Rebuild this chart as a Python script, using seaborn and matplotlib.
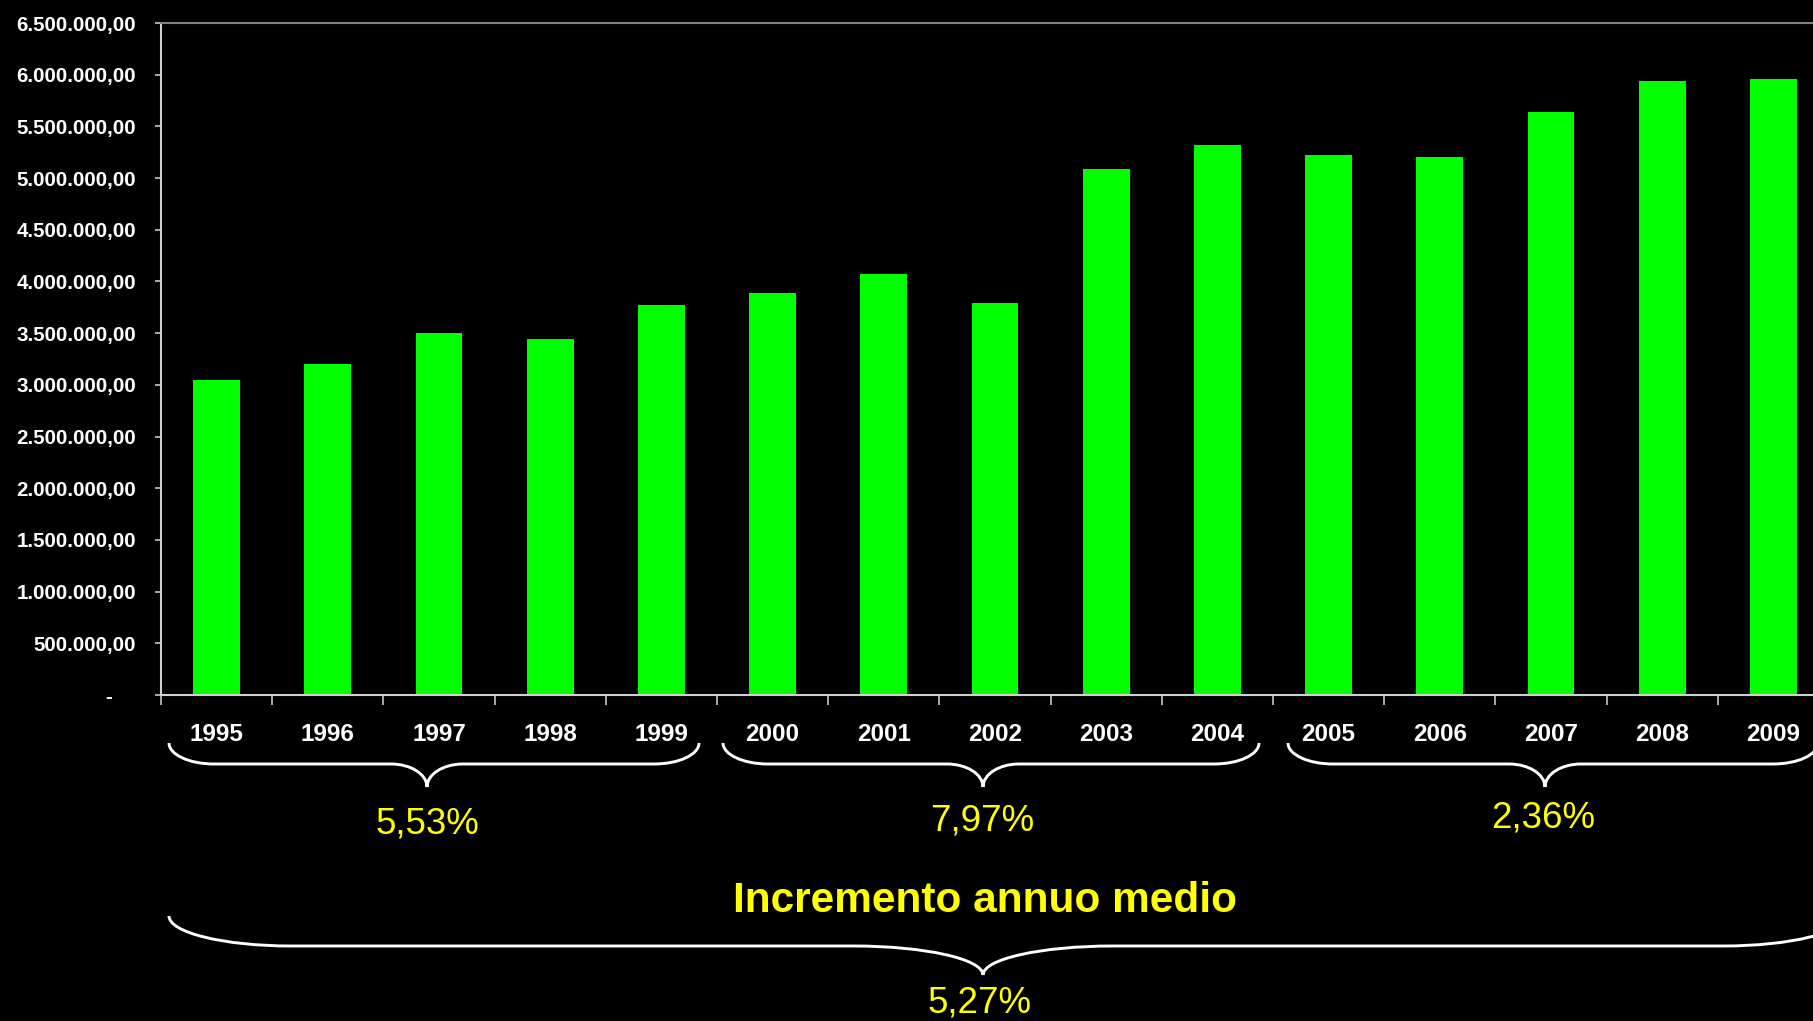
import matplotlib
matplotlib.use("Agg")
import matplotlib.pyplot as plt
import matplotlib.transforms as mtransforms
from matplotlib.path import Path
from matplotlib.patches import PathPatch
from matplotlib.ticker import FuncFormatter, FixedLocator
import seaborn as sns
import pandas as pd

# ---------------- data ----------------
years = ["1995", "1996", "1997", "1998", "1999", "2000", "2001", "2002",
         "2003", "2004", "2005", "2006", "2007", "2008", "2009"]
values = [3050000, 3200000, 3500000, 3445000, 3770000, 3890000, 4070000, 3790000,
          5090000, 5320000, 5220000, 5200000, 5640000, 5940000, 5960000]
y_ticks = [i * 500000 for i in range(14)]
group_labels = ["5,53%", "7,97%", "2,36%"]
overall_label = "5,27%"
title_text = "Incremento annuo medio"

# ---------------- style ----------------
W, H = 1813, 1021
sns.set_theme(style="white")
plt.rcParams["font.family"] = ["Liberation Sans", "DejaVu Sans"]
GREEN = "#00ff00"
YELLOW = "#ffff00"

fig = plt.figure(figsize=(W / 100, H / 100), dpi=100, facecolor="black")
ax = fig.add_axes([161 / W, (H - 695) / H, (15 * 111.2) / W, 672 / H])
ax.set_facecolor("black")

df = pd.DataFrame({"year": years, "value": values})
sns.barplot(data=df, x="year", y="value", color=GREEN, saturation=1,
            width=0.42, ax=ax, linewidth=0)

ax.set_xlim(-0.5, len(years) - 0.5)
ax.set_ylim(0, 6500000)
ax.set_xlabel("")
ax.set_ylabel("")


def it_fmt(v, pos):
    if v == 0:
        return "-    "
    s = f"{v:,.2f}"
    return s.replace(",", "X").replace(".", ",").replace("X", ".")


ax.yaxis.set_major_locator(FixedLocator(y_ticks))
ax.yaxis.set_major_formatter(FuncFormatter(it_fmt))
ax.tick_params(axis="y", which="major", left=True, length=4.3, width=1.2,
               color="#c8c8c8", pad=13.5, labelcolor="white", labelsize=14.8)
for t in ax.get_yticklabels():
    t.set_fontweight("bold")

# x: ticks between categories, labels at centres
ax.xaxis.set_major_locator(FixedLocator([i - 0.5 for i in range(len(years) + 1)]))
ax.xaxis.set_minor_locator(FixedLocator(list(range(len(years)))))
ax.set_xticklabels([""] * (len(years) + 1))
ax.set_xticklabels(years, minor=True)
ax.tick_params(axis="x", which="major", bottom=True, length=7.5, width=1.2,
               color="#c8c8c8")
ax.tick_params(axis="x", which="minor", bottom=True, length=0, pad=20,
               labelcolor="white", labelsize=17.5)
for t in ax.get_xticklabels(minor=True):
    t.set_fontweight("bold")

for side in ["left", "bottom"]:
    ax.spines[side].set_color("#d0d0d0")
    ax.spines[side].set_linewidth(1.5)
ax.spines["top"].set_color("#808080")
ax.spines["top"].set_linewidth(1.5)
ax.spines["right"].set_visible(False)

# ---------------- braces (figure pixel coordinates) ----------------
pix = mtransforms.Affine2D().scale(1 / W, -1 / H).translate(0, 1) + fig.transFigure
K = 0.552


def brace(x0, x1, xt, y_end, y_h, y_tip, r_end, r_tip):
    verts = [
        (x0, y_end),
        (x0, y_end + K * (y_h - y_end)), (x0 + r_end * (1 - K), y_h), (x0 + r_end, y_h),
        (xt - r_tip, y_h),
        (xt - r_tip * (1 - K), y_h), (xt, y_tip - K * (y_tip - y_h)), (xt, y_tip),
        (xt, y_tip - K * (y_tip - y_h)), (xt + r_tip * (1 - K), y_h), (xt + r_tip, y_h),
        (x1 - r_end, y_h),
        (x1 - r_end * (1 - K), y_h), (x1, y_end + K * (y_h - y_end)), (x1, y_end),
    ]
    codes = [Path.MOVETO,
             Path.CURVE4, Path.CURVE4, Path.CURVE4,
             Path.LINETO,
             Path.CURVE4, Path.CURVE4, Path.CURVE4,
             Path.CURVE4, Path.CURVE4, Path.CURVE4,
             Path.LINETO,
             Path.CURVE4, Path.CURVE4, Path.CURVE4]
    patch = PathPatch(Path(verts, codes), transform=pix, facecolor="none",
                      edgecolor="white", linewidth=2.1, clip_on=False)
    fig.patches.append(patch)


brace(169, 699, 427, 743, 764, 787, 45, 36)
brace(723, 1259, 983, 743, 764, 787, 45, 36)
brace(1288, 1818, 1545, 743, 764, 787, 45, 36)
brace(169, 1845, 983, 916, 946, 975, 122, 130)

# ---------------- annotation texts ----------------
group_pos = [(427, 833), (982, 830), (1543, 827)]
for lab, (px, py) in zip(group_labels, group_pos):
    fig.text(px, py, lab, transform=pix, ha="center", va="baseline",
             color=YELLOW, fontsize=26.5)

fig.text(984.6, 911.5, title_text, transform=pix, ha="center", va="baseline",
         color=YELLOW, fontsize=30.5, fontweight="bold")
fig.text(980, 1012, overall_label, transform=pix, ha="center", va="baseline",
         color=YELLOW, fontsize=26.5)

fig.savefig("out.png", dpi=100, facecolor="black")
